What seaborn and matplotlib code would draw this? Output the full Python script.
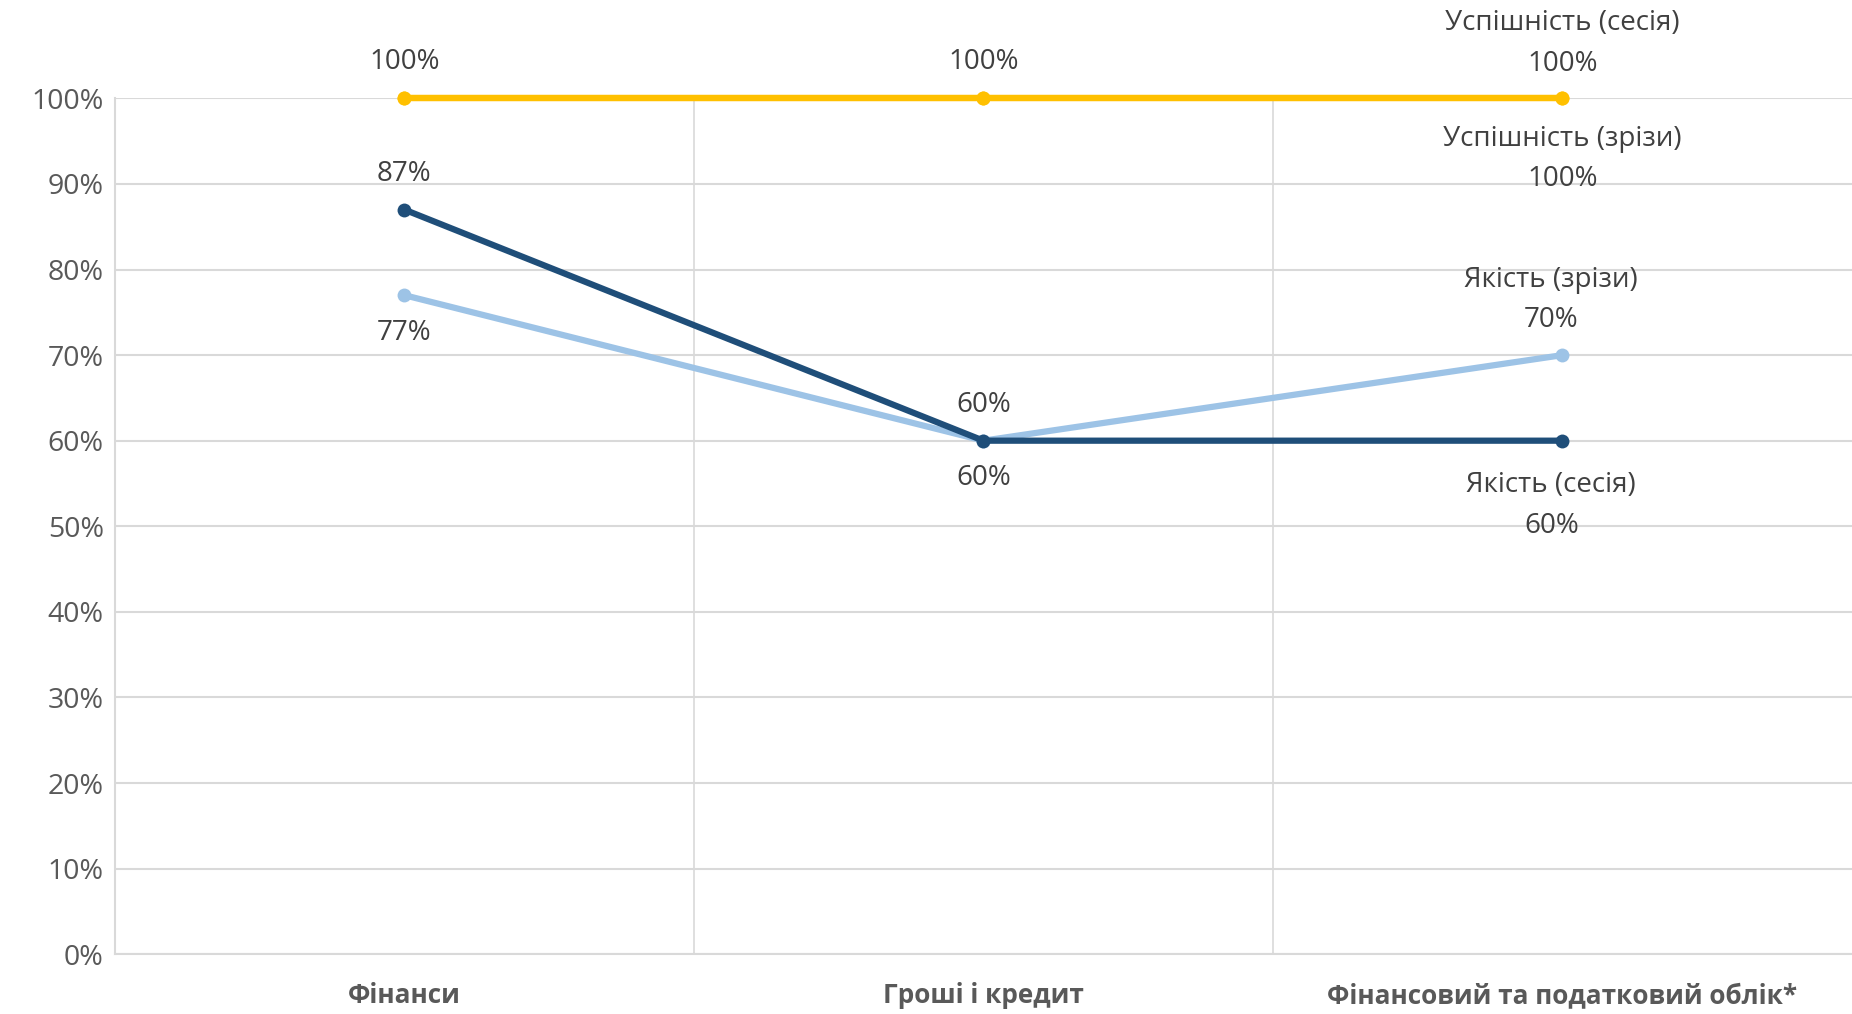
import pandas as pd
import seaborn as sns
import matplotlib.pyplot as plt
from matplotlib.ticker import PercentFormatter, FixedLocator

categories = ["Фінанси", "Гроші і кредит", "Фінансовий та податковий облік*"]
series_names = ["Успішність (зрізи)", "Успішність (сесія)", "Якість (зрізи)", "Якість (сесія)"]
uspishnist_zrizy = [1.00, 1.00, 1.00]
uspishnist_sesiia = [1.00, 1.00, 1.00]
yakist_zrizy = [0.77, 0.60, 0.70]
yakist_sesiia = [0.87, 0.60, 0.60]

colors = {
    "Успішність (зрізи)": "#FFC000",
    "Успішність (сесія)": "#FFC000",
    "Якість (зрізи)": "#9DC3E6",
    "Якість (сесія)": "#1F4E79",
}

values = [uspishnist_zrizy, uspishnist_sesiia, yakist_zrizy, yakist_sesiia]
rows = []
for name, vals in zip(series_names, values):
    for i, v in enumerate(vals):
        rows.append({"series": name, "pos": i, "value": v})
df = pd.DataFrame(rows)

sns.set_style("white")
plt.rcParams["font.family"] = ["Open Sans", "DejaVu Sans"]

fig = plt.figure(figsize=(18.52, 10.14), dpi=100)
ax = fig.add_axes([0.062, 0.059, 0.938, 0.844])

sns.lineplot(data=df, x="pos", y="value", hue="series", hue_order=series_names,
             palette=colors, marker="o", markersize=10, markeredgewidth=0,
             linewidth=4.5, legend=False, ax=ax, zorder=3)
for line in ax.lines:
    line.set_clip_on(False)

ax.set_xlim(-0.5, 2.5)
ax.set_ylim(0, 1.0)
ax.yaxis.set_major_locator(FixedLocator([i / 10 for i in range(11)]))
ax.yaxis.set_major_formatter(PercentFormatter(1.0, decimals=0))
ax.set_xticks(range(len(categories)))
ax.set_xticklabels(categories, fontsize=18.8, fontweight="bold", color="#595959")
ax.tick_params(axis="y", labelsize=20.5, labelcolor="#595959", length=0, pad=8)
ax.tick_params(axis="x", length=0, pad=20)
ax.set_xlabel("")
ax.set_ylabel("")

ax.grid(axis="y", color="#D9D9D9", linewidth=1.5)
for b in [0.5, 1.5]:
    ax.axvline(b, color="#D9D9D9", linewidth=1.2, zorder=0)
for s in ["top", "right"]:
    ax.spines[s].set_visible(False)
for s in ["left", "bottom"]:
    ax.spines[s].set_color("#D9D9D9")
    ax.spines[s].set_linewidth(1.5)

lab = dict(fontsize=20, color="#404040", ha="center", textcoords="offset points")


def pct(v):
    return f"{round(v * 100):.0f}%"


# point labels for the first two categories
for i in range(2):
    ax.annotate(pct(uspishnist_sesiia[i]), (i, uspishnist_sesiia[i]), xytext=(0, 26), va="center", **lab)
    ax.annotate(pct(yakist_sesiia[i]), (i, yakist_sesiia[i]), xytext=(0, 26), va="center", **lab)
    ax.annotate(pct(yakist_zrizy[i]), (i, yakist_zrizy[i]), xytext=(0, -27), va="center", **lab)

# series-name labels at the last category
last = len(categories) - 1
ax.annotate(f"Успішність (сесія)\n{pct(uspishnist_sesiia[last])}", (last, uspishnist_sesiia[last]),
            xytext=(0, 15), va="bottom", linespacing=1.6, **lab)
ax.annotate(f"Успішність (зрізи)\n{pct(uspishnist_zrizy[last])}", (last, uspishnist_zrizy[last]),
            xytext=(0, -19), va="top", linespacing=1.6, **lab)
ax.annotate(f"Якість (зрізи)\n{pct(yakist_zrizy[last])}", (last, yakist_zrizy[last]),
            xytext=(-8, 15), va="bottom", linespacing=1.6, **lab)
ax.annotate(f"Якість (сесія)\n{pct(yakist_sesiia[last])}", (last, yakist_sesiia[last]),
            xytext=(-8, -22), va="top", linespacing=1.6, **lab)

fig.savefig("out.png", dpi=100)
